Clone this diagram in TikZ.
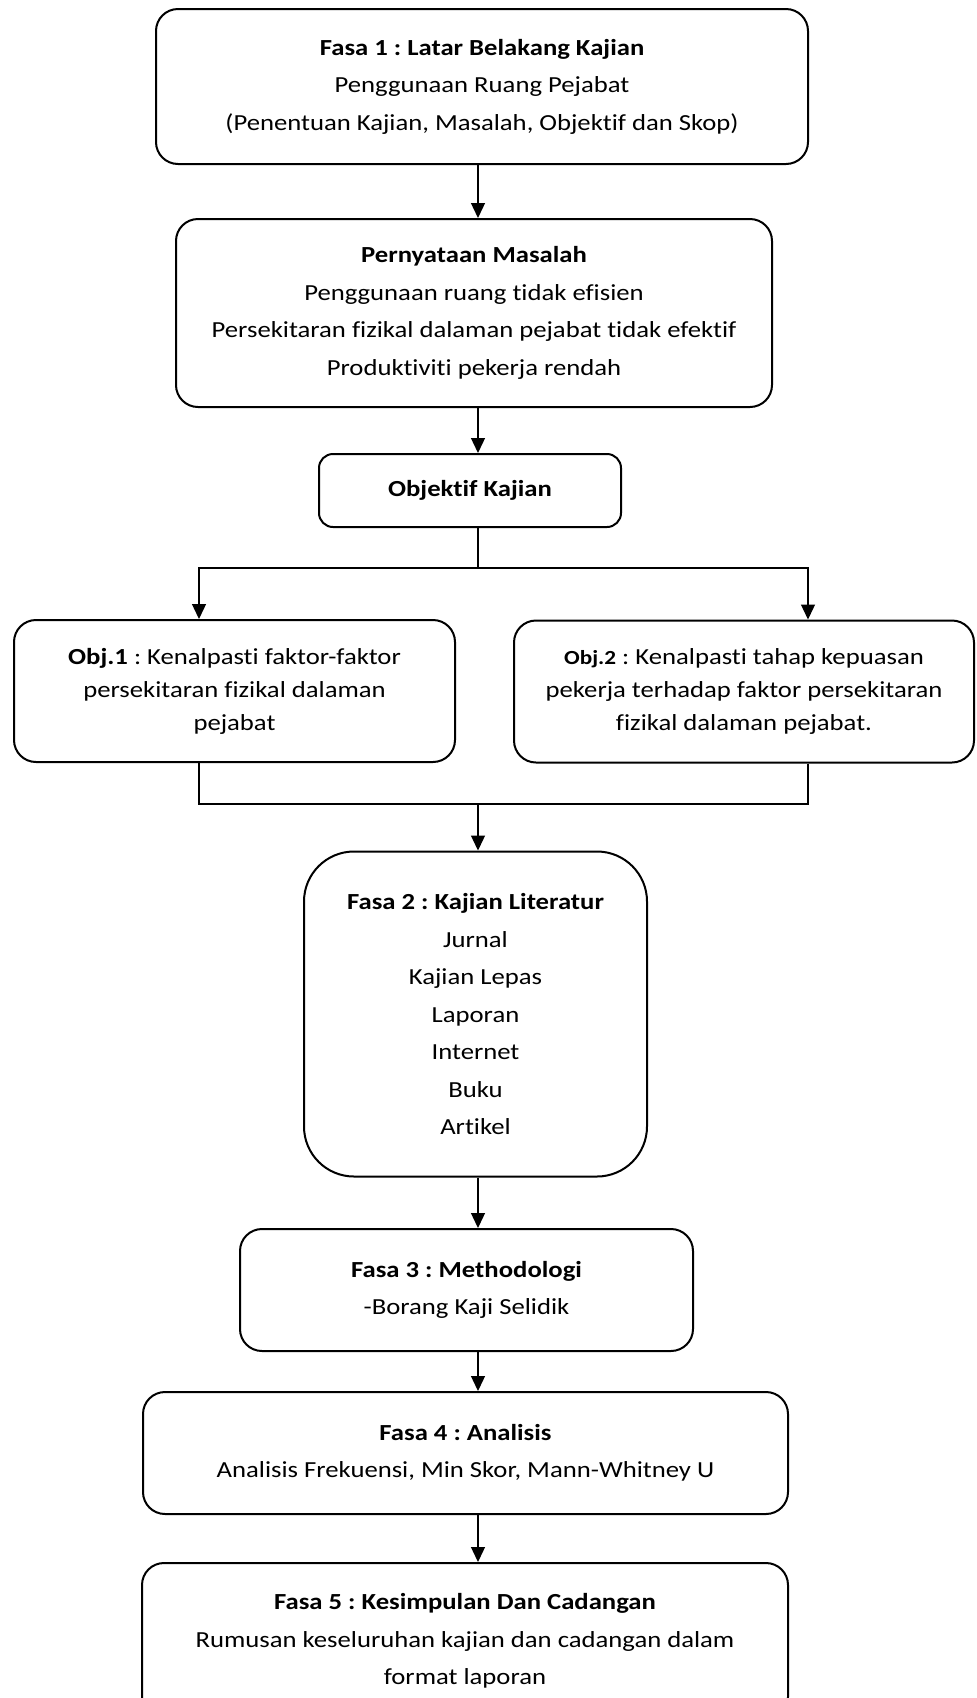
\documentclass[tikz,border=0pt]{standalone}
\usepackage{fontspec}
\setmainfont[FakeStretch=1.16,Ligatures=NoCommon]{Carlito}
\frenchspacing
\usetikzlibrary{arrows.meta,calc}
\tikzset{>={Triangle[length=7.5pt,width=7pt]}}

\begin{document}
\begin{tikzpicture}[x=0.5pt,y=-0.5pt,
    fasabox/.style={draw,line width=1pt,rounded corners=11pt,align=center,
      inner sep=0pt,font=\fontsize{11.5}{18.75}\selectfont},
    objbox/.style={fasabox,font=\fontsize{11.5}{16.5}\selectfont},
    link/.style={line width=0.65pt}]
          \useasboundingbox (0,0) rectangle (976,1698);
          \coordinate (spine) at (478,0);
          \coordinate (lx) at (199,0);
          \coordinate (rx) at (808,0);
          \coordinate (split) at (478,568);
          \coordinate (join) at (478,804);
          \node[fasabox,minimum width=326pt,minimum height=77.5pt] (fasa1) at (482,86.5)
            {\textbf{Fasa 1 : Latar Belakang Kajian}\\Penggunaan Ruang Pejabat\\(Penentuan Kajian, Masalah, Objektif dan Skop)};
          \node[fasabox,minimum width=298pt,minimum height=94pt] (masalah) at (474,313)
            {\textbf{Pernyataan Masalah}\\Penggunaan ruang tidak efisien\\Persekitaran fizikal dalaman pejabat tidak efektif\\Produktiviti pekerja rendah};
          \node[fasabox,rounded corners=7pt,minimum width=151pt,minimum height=36.5pt] (objektif) at (470,490.5)
            {\textbf{Objektif Kajian}};
          \node[objbox,minimum width=220.5pt,minimum height=71pt] (obj1) at (234.5,691)
            {\textbf{Obj.1} : Kenalpasti faktor-faktor\\persekitaran fizikal dalaman\\pejabat};
          \node[objbox,minimum width=230pt,minimum height=71pt] (obj2) at (744,691.5)
            {{\fontsize{10}{16.5}\selectfont\textbf{Obj.2}} : Kenalpasti tahap kepuasan\\pekerja terhadap faktor persekitaran\\fizikal dalaman pejabat.};
          \node[fasabox,rounded corners=25pt,minimum width=171.5pt,minimum height=162.5pt] (fasa2) at (475.5,1014)
            {\textbf{Fasa 2 : Kajian Literatur}\\Jurnal\\Kajian Lepas\\Laporan\\Internet\\Buku\\Artikel};
          \node[fasabox,minimum width=226.5pt,minimum height=61pt] (fasa3) at (466.5,1290)
            {\textbf{Fasa 3 : Methodologi}\\-Borang Kaji Selidik};
          \node[fasabox,minimum width=322.5pt,minimum height=61pt] (fasa4) at (465.5,1453)
            {\textbf{Fasa 4 : Analisis}\\Analisis Frekuensi, Min Skor, Mann-Whitney U};
          \node[fasabox,minimum width=323pt,minimum height=78pt] (fasa5) at (465,1641)
            {\textbf{Fasa 5 : Kesimpulan Dan Cadangan}\\Rumusan keseluruhan kajian dan cadangan dalam\\format laporan};
          \begin{scope}[link]
            \draw[->] (fasa1.south -| spine) -- (masalah.north -| spine);
            \draw[->] (masalah.south -| spine) -- (objektif.north -| spine);
            \draw (objektif.south -| spine) -- (split);
            \draw[->] (split) -| (obj1.north -| lx);
            \draw[->] (split) -| (obj2.north -| rx);
            \draw (obj1.south -| lx) |- (join);
            \draw (obj2.south -| rx) |- (join);
            \draw[->] (join) -- (fasa2.north -| spine);
            \draw[->] (fasa2.south -| spine) -- (fasa3.north -| spine);
            \draw[->] (fasa3.south -| spine) -- (fasa4.north -| spine);
            \draw[->] (fasa4.south -| spine) -- (fasa5.north -| spine);
          \end{scope}
        \end{tikzpicture}
\end{document}
